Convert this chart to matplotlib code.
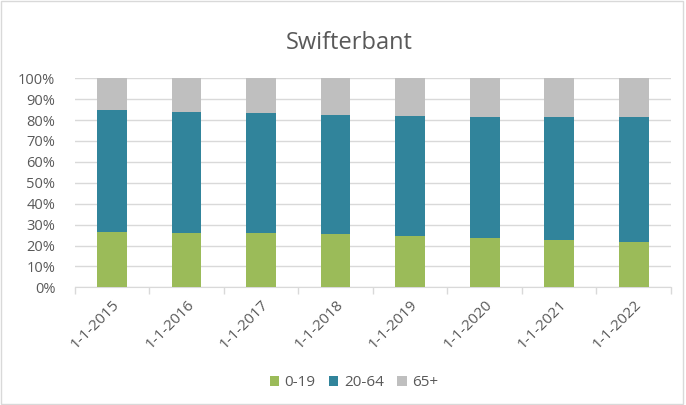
import numpy as np
import matplotlib
matplotlib.use("Agg")
import matplotlib.pyplot as plt
from matplotlib.patches import Rectangle

plt.rcParams['font.family'] = ['Open Sans', 'DejaVu Sans']

datums = ["1-1-2015", "1-1-2016", "1-1-2017", "1-1-2018",
          "1-1-2019", "1-1-2020", "1-1-2021", "1-1-2022"]
jong = [26.6, 26.1, 25.8, 25.4, 24.5, 23.6, 22.6, 21.8]
midden = [58.1, 57.6, 57.5, 57.0, 57.5, 57.9, 58.9, 59.7]
oud = [15.3, 16.3, 16.7, 17.6, 18.0, 18.5, 18.5, 18.5]

kleuren = ["#9BBB59", "#31849B", "#BFBFBF"]
namen = ["0-19", "20-64", "65+"]
tekst = "#595959"

fig = plt.figure(figsize=(6.86, 4.05), dpi=100)
ax = fig.add_axes([0.109, 0.2906, 0.869, 0.5161])

x = np.arange(len(datums))
onder = np.zeros(len(datums))
for waarden, kleur, naam in zip([jong, midden, oud], kleuren, namen):
    ax.bar(x, waarden, bottom=onder, width=0.4, color=kleur, label=naam, zorder=3)
    onder += np.array(waarden)

ax.set_ylim(0, 100)
ax.set_xlim(-0.5, len(datums) - 0.5)
ax.set_yticks(np.arange(0, 101, 10))
ax.set_yticklabels([f"{v}%" for v in range(0, 101, 10)])
ax.yaxis.grid(True, color="#D9D9D9", linewidth=1, zorder=0)
ax.tick_params(axis="y", length=0, labelsize=10.5, colors=tekst, pad=14)

ax.set_xticks(x)
ax.set_xticklabels(datums, rotation=45, ha="right", rotation_mode="anchor")
ax.tick_params(axis="x", length=0, labelsize=11, colors=tekst, pad=7)
ax.set_xticks(np.arange(-0.5, len(datums)), minor=True)
ax.tick_params(axis="x", which="minor", length=5, color="#D9D9D9", width=1)

for kant in ["top", "right", "left"]:
    ax.spines[kant].set_visible(False)
ax.spines["bottom"].set_color("#D9D9D9")

fig.text(0.509, 0.895, "Swifterbant", ha="center", va="center", fontsize=17, color=tekst)

fig.legend(loc="center", bbox_to_anchor=(0.516, 0.055), ncol=3, frameon=False,
           fontsize=11, labelcolor=tekst, handlelength=0.6, handleheight=0.6,
           handletextpad=0.35, columnspacing=0.9)

fig.patches.append(Rectangle((0.002, 0.003), 0.994, 0.994, transform=fig.transFigure,
                             fill=False, edgecolor="#D9D9D9", linewidth=1))

fig.savefig("out.png", dpi=100)
